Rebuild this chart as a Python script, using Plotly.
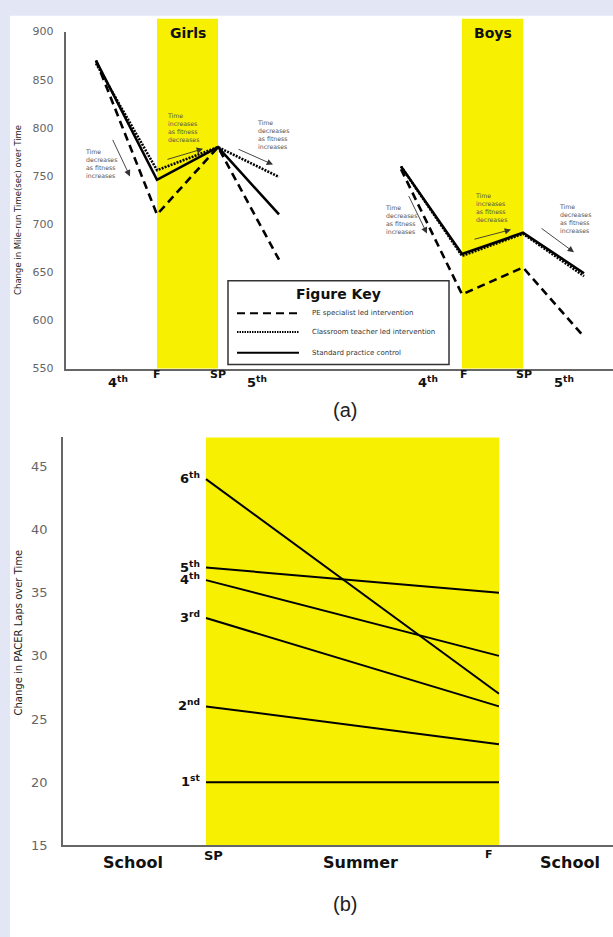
import plotly.graph_objects as go

# ---------------- data ----------------
# (a) mile-run time (sec); x positions: 4th, F, SP, 5th
girls_x = [0, 1, 2, 3]
boys_x = [5, 6, 7, 8]
girls_pe = [870, 710, 780, 663]
girls_ct = [867, 756, 780, 749]
girls_sp = [870, 746, 780, 710]
boys_pe = [757, 627, 655, 583]
boys_ct = [760, 667, 690, 646]
boys_sp = [760, 669, 691, 649]
series_names = ["PE specialist led intervention",
                "Classroom teacher led intervention",
                "Standard practice control"]
top_yticks = [550, 600, 650, 700, 750, 800, 850, 900]

# (b) PACER laps, SP -> F
grades = ["1<sup>st</sup>", "2<sup>nd</sup>", "3<sup>rd</sup>",
          "4<sup>th</sup>", "5<sup>th</sup>", "6<sup>th</sup>"]
laps_sp = [20, 26, 33, 36, 37, 44]
laps_f = [20, 23, 26, 30, 35, 27]
bottom_yticks = [15, 20, 25, 30, 35, 40, 45]

W, H = 613, 937
def px(x): return x / W
def py(y): return 1 - y / H

FONT = "DejaVu Sans"

fig = go.Figure()

def joined(a, b):
    return a + [None] + b

styles = [dict(dash="8px,5px", width=2.6),
          dict(dash="2px,1.2px", width=2.6),
          dict(dash="solid", width=2.6)]
gvals = [girls_pe, girls_ct, girls_sp]
bvals = [boys_pe, boys_ct, boys_sp]
for name, st, g, b in zip(series_names, styles, gvals, bvals):
    fig.add_trace(go.Scatter(
        x=joined(girls_x, boys_x), y=joined(g, b), mode="lines", name=name,
        line=dict(color="black", width=st["width"], dash=st["dash"]),
        connectgaps=False, showlegend=False, xaxis="x", yaxis="y"))

for g, a, b in zip(grades, laps_sp, laps_f):
    fig.add_trace(go.Scatter(
        x=[0, 1], y=[a, b], mode="lines", name=g,
        line=dict(color="black", width=2), showlegend=False,
        xaxis="x2", yaxis="y2"))

shapes = []
# white panel on lavender page
shapes.append(dict(type="rect", xref="paper", yref="paper", x0=px(10), x1=1.02,
                   y0=-0.02, y1=py(10), fillcolor="white", line=dict(width=0),
                   layer="below"))
# yellow summer bands (F -> SP)
for x0, x1 in [(girls_x[1], girls_x[2]), (boys_x[1], boys_x[2])]:
    shapes.append(dict(type="rect", xref="x", yref="paper", x0=x0, x1=x1,
                       y0=py(368), y1=py(13), fillcolor="#f7f000",
                       line=dict(width=0), layer="below"))
shapes.append(dict(type="rect", xref="x2", yref="paper", x0=0, x1=1,
                   y0=py(852), y1=py(438), fillcolor="#f7f000",
                   line=dict(width=0), layer="below"))

# figure key box
shapes.append(dict(type="rect", xref="paper", yref="paper", x0=px(228), x1=px(449),
                   y0=py(364), y1=py(279), fillcolor="white",
                   line=dict(color="#333", width=1.5), layer="above"))
key_y = [312, 331, 352]
key_dash = ["8px,5px", "1.5px,1px", "solid"]
for kd, ky in zip(key_dash, key_y):
    shapes.append(dict(type="line", xref="paper", yref="paper", x0=px(237), x1=px(299),
                       y0=py(ky), y1=py(ky),
                       line=dict(color="black", width=2, dash=kd),
                       layer="above"))

ann = []
def text(x, y, t, size, color="#111", xanchor="center", yanchor="middle",
         family=FONT, align="center", angle=0):
    ann.append(dict(x=px(x), y=py(y), xref="paper", yref="paper", text=t,
                    showarrow=False, xanchor=xanchor, yanchor=yanchor, align=align,
                    textangle=angle,
                    font=dict(family=family, size=size, color=color)))

# top labels
text(188, 27, "<b>Girls</b>", 14)
text(493, 27, "<b>Boys</b>", 14)
for x, t, y, s in [(118, "<b>4<sup>th</sup></b>", 382, 13), (157, "<b>F</b>", 374, 11),
                   (218, "<b>SP</b>", 374, 11), (257, "<b>5<sup>th</sup></b>", 382, 13),
                   (428, "<b>4<sup>th</sup></b>", 382, 13), (464, "<b>F</b>", 374, 11),
                   (524, "<b>SP</b>", 374, 11), (564, "<b>5<sup>th</sup></b>", 382, 13)]:
    text(x, y, t, s)

# key texts
text(338, 292, "<b>Figure Key</b>", 14)
for nm, ky in zip(series_names, key_y):
    text(310, ky, nm, 7, color="#333", xanchor="left")

# small notes
dec = "Time<br>decreases<br>as fitness<br>increases"
inc = "Time<br>increases<br>as fitness<br>decreases"
for x, y, t in [(83, 142, dec), (165, 106, inc), (255, 113, dec),
                (383, 199, dec), (473, 187, inc), (557, 198, dec)]:
    ann.append(dict(x=px(x), y=py(y), xref="paper", yref="paper", text=t,
                    showarrow=False, xanchor="left", yanchor="top", align="left",
                    font=dict(family=FONT, size=6.2, color="#555")))

# arrows (tail -> head)
for (tx, ty), (hx, hy) in [((112, 135), (130, 173)), ((166, 156), (203, 145)),
                           ((237, 145), (273, 161)), ((408, 192), (427, 231)),
                           ((473, 237), (511, 227)), ((540, 225), (574, 250))]:
    ann.append(dict(x=px(hx), y=py(hy), xref="paper", yref="paper", text="",
                    showarrow=True, ax=tx - hx, ay=ty - hy, axref="pixel", ayref="pixel",
                    arrowhead=2, arrowsize=1.4, arrowwidth=0.9, arrowcolor="#333"))

# axis titles
text(18, 207, "Change in Mile-run Time(sec) over Time", 8.5, color="#222", angle=-90)
text(18, 636, "Change in PACER Laps over Time", 10, color="#222", angle=-90)

# bottom labels
text(133, 869, "<b>School</b>", 16)
text(213, 862, "<b>SP</b>", 13)
text(360, 869, "<b>Summer</b>", 16)
text(489, 861, "<b>F</b>", 11)
text(570, 869, "<b>School</b>", 16)
for g, v in zip(grades, laps_sp):
    ann.append(dict(x=0, y=v, xref="x2", yref="y2", text="<b>" + g + "</b>",
                    showarrow=False, xanchor="right", yanchor="middle", xshift=-4,
                    yshift=1, font=dict(family=FONT, size=13, color="#111")))

text(345, 410, "(a)", 20, color="#222", family="Liberation Sans")
text(345, 912, "(b)", 20, color="#222", family="Liberation Sans")

axis_common = dict(showgrid=False, zeroline=False, showline=True, linecolor="#666",
                   linewidth=1.6)

fig.update_layout(
    width=W, height=H, margin=dict(l=0, r=0, t=0, b=0),
    paper_bgcolor="#e3e6f4", plot_bgcolor="rgba(0,0,0,0)",
    showlegend=False, shapes=shapes, annotations=ann,
    xaxis=dict(domain=[px(65.5), 1], range=[-0.5, 8.475], showticklabels=False,
               ticks="", fixedrange=True, **axis_common),
    yaxis=dict(domain=[py(368), py(26)], range=[550, 900], tickvals=top_yticks,
               ticks="", ticklabelstandoff=8,
               tickfont=dict(family=FONT, size=11, color="#666"), **axis_common),
    xaxis2=dict(domain=[px(63), 1], range=[-0.488, 1.389], showticklabels=False,
                ticks="", anchor="y2", **axis_common),
    yaxis2=dict(domain=[py(852), py(438)], range=[15, 47.3], tickvals=bottom_yticks,
                ticks="", ticklabelstandoff=11, anchor="x2",
                tickfont=dict(family=FONT, size=13, color="#666"), **axis_common),
)

fig.write_html("out.html", config={"displayModeBar": False},
               post_script="document.body.style.margin='0';"
                           "document.body.style.overflow='hidden';")
